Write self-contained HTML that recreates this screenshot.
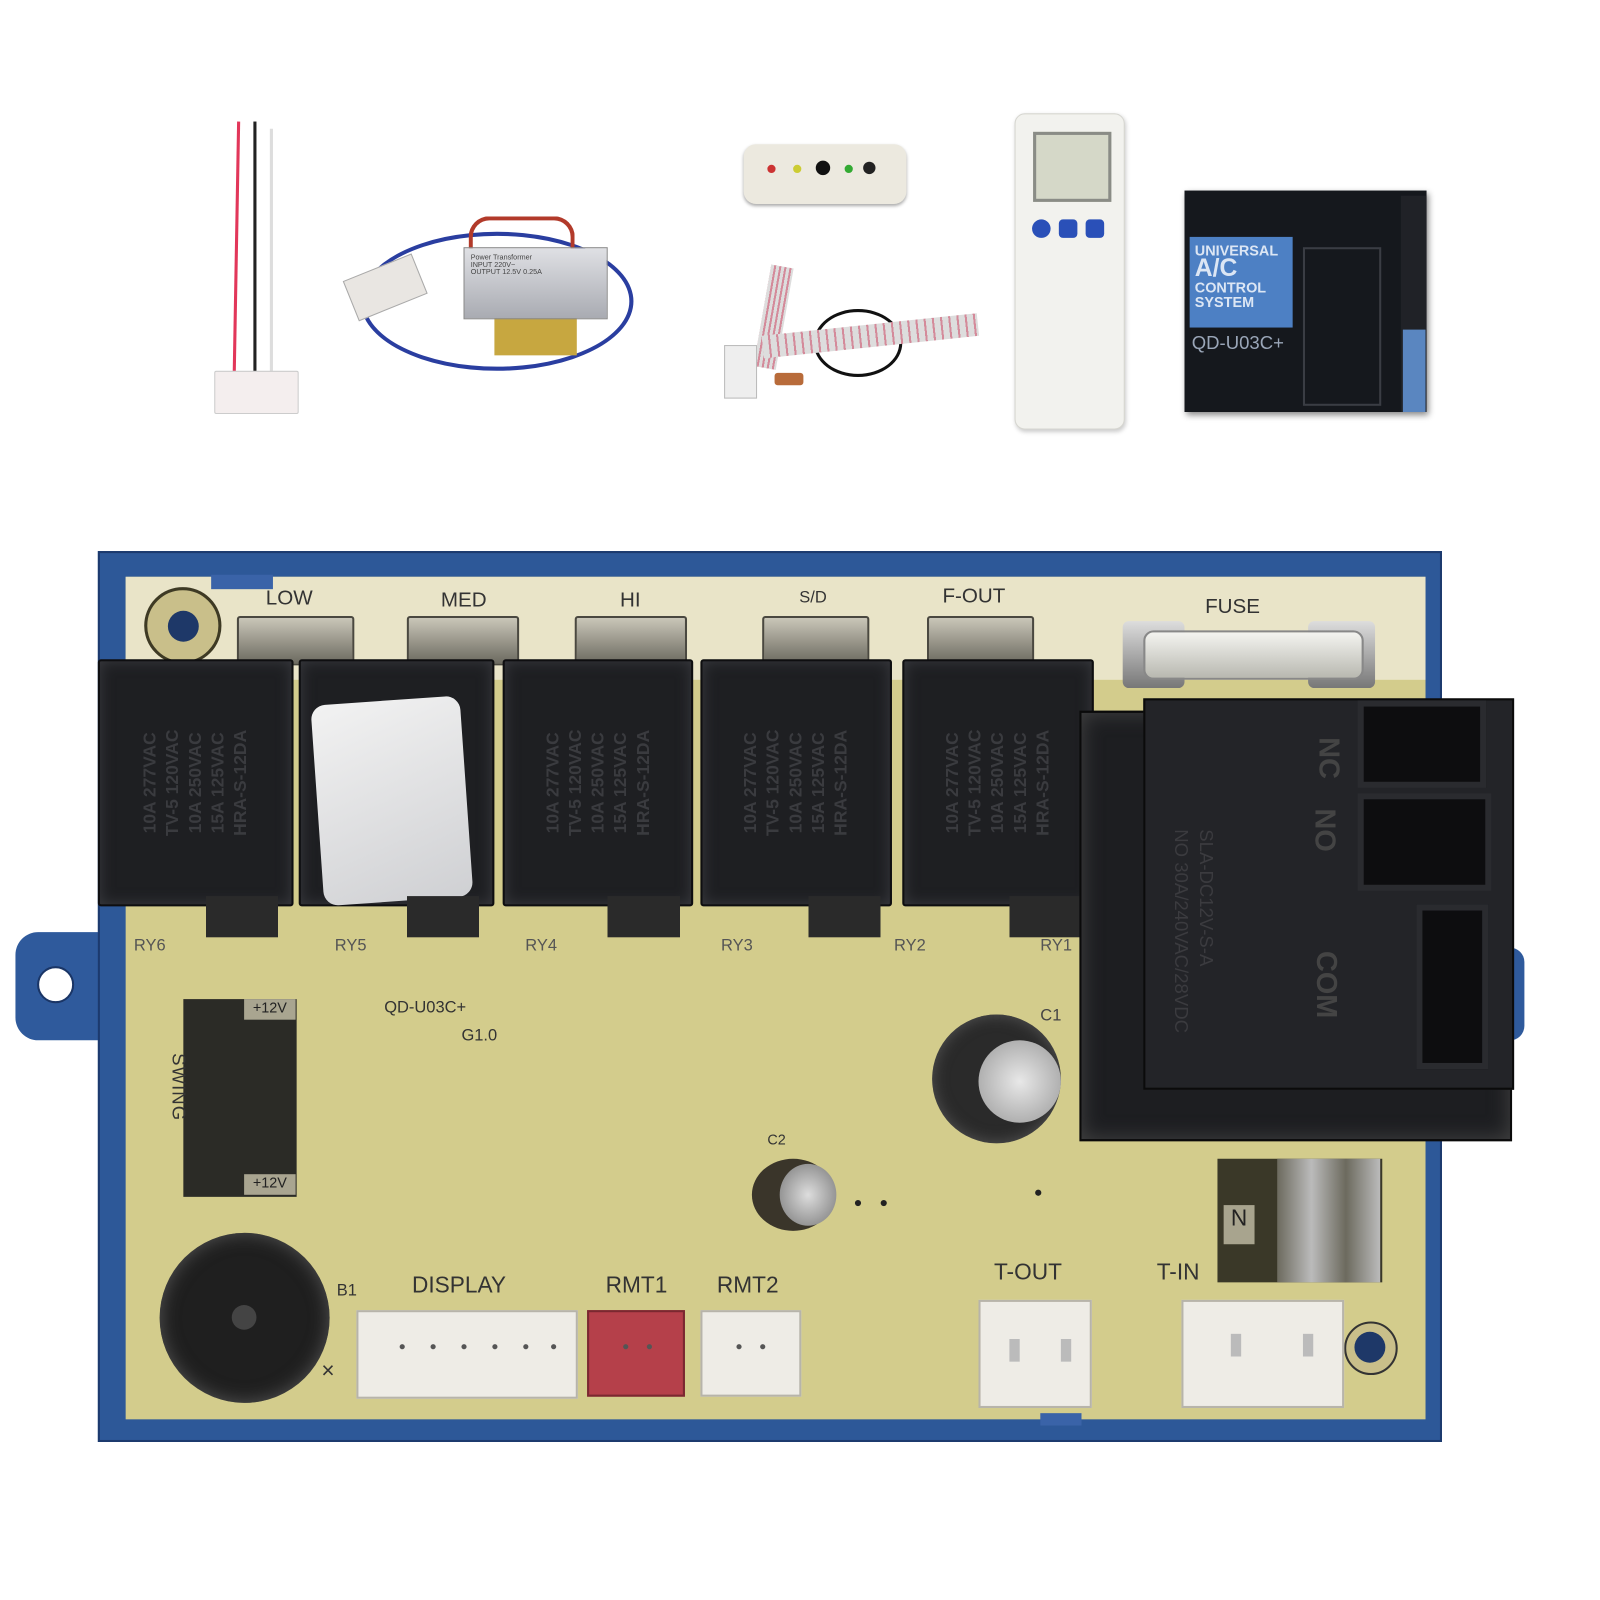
<!DOCTYPE html>
<html><head><meta charset="utf-8"><style>
html,body{margin:0;padding:0;background:#fff;width:1600px;height:1600px;overflow:hidden}
#w{position:absolute;left:0;top:0;width:1553px;height:1553px;transform:scale(1.03);transform-origin:0 0;font-family:"Liberation Sans",sans-serif}
.a{position:absolute}
.relay{position:absolute;top:640px;height:240px;background:#1e1f22;border:2px solid #0e0e10;box-sizing:border-box;border-radius:3px;box-shadow:inset 0 0 14px #3a3b40}
.relay span{position:absolute;left:50%;top:50%;transform:translate(-50%,-50%) rotate(-90deg);color:#3a3b3f;font-weight:bold;font-size:17px;white-space:nowrap;line-height:22px;text-align:center}
.lab{position:absolute;color:#333;font-size:20px}
.term{position:absolute;top:598px;height:44px;background:linear-gradient(#c9c6b8,#6c6a60);border:2px solid #4a4840;border-radius:3px}
.conn{position:absolute;background:#eeece6;border:2px solid #b7b4aa;box-sizing:border-box}
.pin{position:absolute;width:5px;height:5px;background:#555;border-radius:50%}
</style></head><body><div id="w">

<!-- wire harness -->
<div class="a" style="left:228px;top:118px;width:3px;height:250px;background:#e2375a;transform:rotate(1deg)"></div>
<div class="a" style="left:246px;top:118px;width:3px;height:250px;background:#222"></div>
<div class="a" style="left:262px;top:125px;width:3px;height:245px;background:#ddd"></div>
<div class="a" style="left:208px;top:360px;width:80px;height:40px;background:#f4eeee;border:1px solid #ccc;border-radius:2px"></div>

<!-- transformer -->
<div class="a" style="left:350px;top:225px;width:265px;height:135px;border:4px solid #2a3ea0;border-radius:50%;box-sizing:border-box"></div>
<div class="a" style="left:455px;top:210px;width:95px;height:40px;border:4px solid #b23a2a;border-radius:20px 20px 0 0;border-bottom:none"></div>
<div class="a" style="left:480px;top:305px;width:80px;height:40px;background:#c7a740"></div>
<div class="a" style="left:450px;top:240px;width:140px;height:70px;background:linear-gradient(#dfe0e4,#a9abb2);border:1px solid #888;font-size:7px;color:#444;padding:6px;box-sizing:border-box">Power Transformer<br>INPUT 220V~<br>OUTPUT 12.5V 0.25A</div>
<div class="a" style="left:338px;top:258px;width:70px;height:40px;background:#e9e6e2;border:1px solid #aaa;transform:rotate(-22deg)"></div>

<!-- display module -->
<div class="a" style="left:740px;top:258px;width:22px;height:100px;background:repeating-linear-gradient(90deg,#ddd 0 3px,#d48a9a 3px 5px);transform:rotate(10deg)"></div>
<div class="a" style="left:790px;top:300px;width:80px;height:60px;border:3px solid #111;border-radius:50%"></div>
<div class="a" style="left:740px;top:315px;width:210px;height:22px;background:repeating-linear-gradient(90deg,#ddd 0 6px,#d48a9a 6px 8px);transform:rotate(-6deg)"></div>
<div class="a" style="left:703px;top:335px;width:30px;height:50px;background:#eee;border:1px solid #bbb"></div>
<div class="a" style="left:752px;top:362px;width:28px;height:12px;background:#b86b3a;border-radius:3px"></div>
<div class="a" style="left:722px;top:140px;width:158px;height:58px;background:#ece9df;border-radius:12px;box-shadow:0 2px 3px #aaa"></div>
<div class="a" style="left:745px;top:160px;width:8px;height:8px;border-radius:50%;background:#c33"></div>
<div class="a" style="left:770px;top:160px;width:8px;height:8px;border-radius:50%;background:#cc3"></div>
<div class="a" style="left:792px;top:156px;width:14px;height:14px;border-radius:50%;background:#111"></div>
<div class="a" style="left:820px;top:160px;width:8px;height:8px;border-radius:50%;background:#3a3"></div>
<div class="a" style="left:838px;top:157px;width:12px;height:12px;border-radius:50%;background:#222"></div>

<!-- remote -->
<div class="a" style="left:985px;top:110px;width:105px;height:305px;background:#f2f2ee;border:1px solid #d6d6d0;border-radius:10px;box-shadow:1px 2px 4px #ccc"></div>
<div class="a" style="left:1003px;top:128px;width:70px;height:62px;background:#d5d8c8;border:3px solid #8a8c86"></div>
<div class="a" style="left:1002px;top:213px;width:18px;height:18px;border-radius:50%;background:#2a50b8"></div>
<div class="a" style="left:1028px;top:213px;width:18px;height:18px;border-radius:4px;background:#2a50b8"></div>
<div class="a" style="left:1054px;top:213px;width:18px;height:18px;border-radius:4px;background:#2a50b8"></div>

<!-- box -->
<div class="a" style="left:1150px;top:185px;width:235px;height:215px;background:#15181d;box-shadow:2px 3px 6px #888"></div>
<div class="a" style="left:1360px;top:190px;width:25px;height:210px;background:#202227"></div>
<div class="a" style="left:1362px;top:320px;width:22px;height:80px;background:#5a86c0"></div>
<div class="a" style="left:1155px;top:230px;width:100px;height:88px;background:#4d80c4;color:#dce6f4;font-weight:bold;font-size:14px;line-height:14px;padding:6px 5px;box-sizing:border-box">UNIVERSAL<br><span style="font-size:24px;line-height:22px">A/C</span><br>CONTROL<br>SYSTEM</div>
<div class="a" style="left:1157px;top:323px;color:#9aa6b8;font-size:18px">QD-U03C+</div>
<div class="a" style="left:1265px;top:240px;width:72px;height:150px;border:2px solid #3a3d44"></div>

<!-- board: ear -->
<div class="a" style="left:15px;top:905px;width:110px;height:105px;background:#2f5a9c;border-radius:22px 0 0 22px"></div>
<div class="a" style="left:36px;top:938px;width:32px;height:32px;border-radius:50%;background:#fff;border:2px solid #1a3566"></div>
<div class="a" style="left:1455px;top:920px;width:25px;height:90px;background:#2f5a9c;border-radius:0 14px 14px 0"></div>
<!-- frame -->
<div class="a" style="left:95px;top:535px;width:1305px;height:865px;background:#2d5898;border:2px solid #1c3a6e;box-sizing:border-box"></div>
<!-- pcb -->
<div class="a" style="left:122px;top:560px;width:1262px;height:818px;background:#d3cc8c"></div>
<div class="a" style="left:122px;top:560px;width:1262px;height:100px;background:#e9e4c8"></div>
<div class="a" style="left:140px;top:570px;width:75px;height:75px;border-radius:50%;background:#c9bf8a;border:3px solid #3e3a24;box-sizing:border-box"></div>
<div class="a" style="left:163px;top:593px;width:30px;height:30px;border-radius:50%;background:#1e3868"></div>
<div class="a" style="left:1305px;top:1283px;width:52px;height:52px;border-radius:50%;background:#c9bf8a;border:2px solid #333;box-sizing:border-box"></div>
<div class="a" style="left:1315px;top:1293px;width:30px;height:30px;border-radius:50%;background:#1e3868"></div>
<div class="a" style="left:205px;top:558px;width:60px;height:14px;background:#3a63a8"></div>
<div class="a" style="left:1010px;top:1372px;width:40px;height:12px;background:#3a63a8"></div>

<!-- top labels & terminals -->
<div class="lab" style="left:258px;top:570px">LOW</div>
<div class="lab" style="left:428px;top:572px">MED</div>
<div class="lab" style="left:602px;top:572px">HI</div>
<div class="lab" style="left:776px;top:572px;font-size:16px">S/D</div>
<div class="lab" style="left:915px;top:568px">F-OUT</div>
<div class="lab" style="left:1170px;top:578px">FUSE</div>
<div class="term" style="left:230px;width:110px"></div>
<div class="term" style="left:395px;width:105px"></div>
<div class="term" style="left:558px;width:105px"></div>
<div class="term" style="left:740px;width:100px"></div>
<div class="term" style="left:900px;width:100px"></div>
<!-- fuse -->
<div class="a" style="left:1090px;top:603px;width:60px;height:65px;background:linear-gradient(#ddd,#777);border-radius:6px"></div>
<div class="a" style="left:1270px;top:603px;width:65px;height:65px;background:linear-gradient(#ddd,#777);border-radius:6px"></div>
<div class="a" style="left:1110px;top:612px;width:210px;height:44px;background:linear-gradient(#f4f4f0,#b8b8b0);border:2px solid #888;border-radius:10px"></div>

<!-- relays -->
<div class="relay" style="left:95px;width:190px"><span>10A 277VAC<br>TV-5 120VAC<br>10A 250VAC<br>15A 125VAC<br>HRA-S-12DA</span></div>
<div class="relay" style="left:290px;width:190px"><span>10A 277VAC<br>TV-5 120VAC<br>10A 250VAC<br>HRA-S-12DA</span></div>
<div class="a" style="left:308px;top:680px;width:145px;height:195px;background:linear-gradient(160deg,#f2f2f2,#cfd0d3);border-radius:14px;transform:rotate(-4deg)"></div>
<div class="relay" style="left:488px;width:185px"><span>10A 277VAC<br>TV-5 120VAC<br>10A 250VAC<br>15A 125VAC<br>HRA-S-12DA</span></div>
<div class="relay" style="left:680px;width:186px"><span>10A 277VAC<br>TV-5 120VAC<br>10A 250VAC<br>15A 125VAC<br>HRA-S-12DA</span></div>
<div class="relay" style="left:876px;width:186px"><span>10A 277VAC<br>TV-5 120VAC<br>10A 250VAC<br>15A 125VAC<br>HRA-S-12DA</span></div>
<div class="a" style="left:160px;top:870px;width:900px;height:40px;background:repeating-linear-gradient(90deg,transparent 0 40px,#2a2a2a 40px 110px,transparent 110px 195px)"></div>
<div class="lab" style="left:130px;top:910px;font-size:16px;color:#555">RY6</div>
<div class="lab" style="left:325px;top:910px;font-size:16px;color:#555">RY5</div>
<div class="lab" style="left:510px;top:910px;font-size:16px;color:#555">RY4</div>
<div class="lab" style="left:700px;top:910px;font-size:16px;color:#555">RY3</div>
<div class="lab" style="left:868px;top:910px;font-size:16px;color:#555">RY2</div>
<div class="lab" style="left:1010px;top:910px;font-size:16px;color:#555">RY1</div>

<!-- big relay -->
<div class="a" style="left:1048px;top:690px;width:420px;height:418px;background:#1d1e21;border:2px solid #0a0a0a;box-sizing:border-box;box-shadow:inset 0 0 20px #444"></div>
<div class="a" style="left:1110px;top:678px;width:360px;height:380px;background:#232428;border:2px solid #0b0b0b;box-sizing:border-box"></div>
<div class="a" style="left:1318px;top:680px;width:125px;height:85px;background:#0d0d0f;border:6px solid #2a2b2f;box-sizing:border-box"></div>
<div class="a" style="left:1318px;top:770px;width:130px;height:95px;background:#0d0d0f;border:6px solid #2a2b2f;box-sizing:border-box"></div>
<div class="a" style="left:1375px;top:878px;width:70px;height:160px;background:#0d0d0f;border:6px solid #2a2b2f;box-sizing:border-box"></div>
<div class="a" style="left:1270px;top:720px;color:#444;font-weight:bold;font-size:28px;transform:rotate(90deg)">NC</div>
<div class="a" style="left:1265px;top:790px;color:#444;font-weight:bold;font-size:28px;transform:rotate(90deg)">NO</div>
<div class="a" style="left:1255px;top:940px;color:#444;font-weight:bold;font-size:28px;transform:rotate(90deg)">COM</div>
<div class="a" style="left:1060px;top:880px;color:#3b3b3f;font-size:18px;line-height:24px;transform:rotate(90deg);white-space:nowrap">SLA-DC12V-S-A<br>NO 30A/240VAC/28VDC</div>

<!-- lower area -->
<div class="lab" style="left:373px;top:970px;font-size:16px">QD-U03C+</div>
<div class="lab" style="left:448px;top:997px;font-size:16px">G1.0</div>
<div class="lab" style="left:1010px;top:978px;font-size:16px;color:#444">C1</div>
<div class="lab" style="left:745px;top:1098px;font-size:14px">C2</div>
<!-- swing -->
<div class="a" style="left:178px;top:970px;width:110px;height:192px;background:#2b2b26"></div>
<div class="a" style="left:237px;top:970px;width:50px;height:20px;background:#a9a590;font-size:14px;color:#222;text-align:center">+12V</div>
<div class="a" style="left:237px;top:1140px;width:50px;height:20px;background:#a9a590;font-size:14px;color:#222;text-align:center">+12V</div>
<div class="a" style="left:140px;top:1045px;font-size:18px;color:#333;transform:rotate(90deg);letter-spacing:1px">SWING</div>
<!-- caps -->
<div class="a" style="left:905px;top:985px;width:125px;height:125px;border-radius:50%;background:#2a2a2a;box-shadow:inset 0 0 15px #555"></div>
<div class="a" style="left:950px;top:1010px;width:80px;height:80px;border-radius:50%;background:radial-gradient(#e8e8e8,#999)"></div>
<div class="a" style="left:730px;top:1125px;width:80px;height:70px;border-radius:50%;background:#3a352a"></div>
<div class="a" style="left:757px;top:1130px;width:55px;height:60px;border-radius:50%;background:radial-gradient(#ddd,#777)"></div>
<div class="a" style="left:830px;top:1165px;width:6px;height:6px;border-radius:50%;background:#222"></div>
<div class="a" style="left:855px;top:1165px;width:6px;height:6px;border-radius:50%;background:#222"></div>
<div class="a" style="left:1005px;top:1155px;width:6px;height:6px;border-radius:50%;background:#222"></div>
<!-- spade terminals N -->
<div class="a" style="left:1182px;top:1125px;width:160px;height:120px;background:#3a3828"></div>
<div class="a" style="left:1240px;top:1125px;width:100px;height:120px;background:linear-gradient(90deg,#6c6a5e,#bbb,#6c6a5e,#bbb)"></div>
<div class="a" style="left:1188px;top:1170px;width:30px;height:38px;background:#a8a48e;color:#222;font-size:22px;text-align:center">N</div>
<!-- buzzer -->
<div class="a" style="left:155px;top:1197px;width:165px;height:165px;border-radius:50%;background:#1f1f1f;box-shadow:inset 0 0 18px #555"></div>
<div class="a" style="left:225px;top:1267px;width:24px;height:24px;border-radius:50%;background:#444"></div>
<div class="lab" style="left:327px;top:1245px;font-size:16px">B1</div>
<div class="lab" style="left:312px;top:1318px;font-size:22px">×</div>
<!-- connectors -->
<div class="lab" style="left:400px;top:1235px;font-size:22px">DISPLAY</div>
<div class="lab" style="left:588px;top:1235px;font-size:22px">RMT1</div>
<div class="lab" style="left:696px;top:1235px;font-size:22px">RMT2</div>
<div class="lab" style="left:965px;top:1222px;font-size:22px">T-OUT</div>
<div class="lab" style="left:1123px;top:1222px;font-size:22px">T-IN</div>
<div class="conn" style="left:346px;top:1272px;width:215px;height:86px"></div>
<div class="conn" style="left:570px;top:1272px;width:95px;height:84px;background:#b5404a;border-color:#7a2830"></div>
<div class="conn" style="left:680px;top:1272px;width:98px;height:84px"></div>
<div class="conn" style="left:950px;top:1262px;width:110px;height:105px"></div>
<div class="conn" style="left:1147px;top:1262px;width:158px;height:105px"></div>
<div class="pin" style="left:388px;top:1305px"></div><div class="pin" style="left:418px;top:1305px"></div><div class="pin" style="left:448px;top:1305px"></div><div class="pin" style="left:478px;top:1305px"></div><div class="pin" style="left:508px;top:1305px"></div><div class="pin" style="left:535px;top:1305px"></div>
<div class="pin" style="left:605px;top:1305px"></div><div class="pin" style="left:628px;top:1305px"></div>
<div class="pin" style="left:715px;top:1305px"></div><div class="pin" style="left:738px;top:1305px"></div>
<div class="a" style="left:980px;top:1300px;width:10px;height:22px;background:#bbb"></div><div class="a" style="left:1030px;top:1300px;width:10px;height:22px;background:#bbb"></div>
<div class="a" style="left:1195px;top:1295px;width:10px;height:22px;background:#bbb"></div><div class="a" style="left:1265px;top:1295px;width:10px;height:22px;background:#bbb"></div>

</div></body></html>
